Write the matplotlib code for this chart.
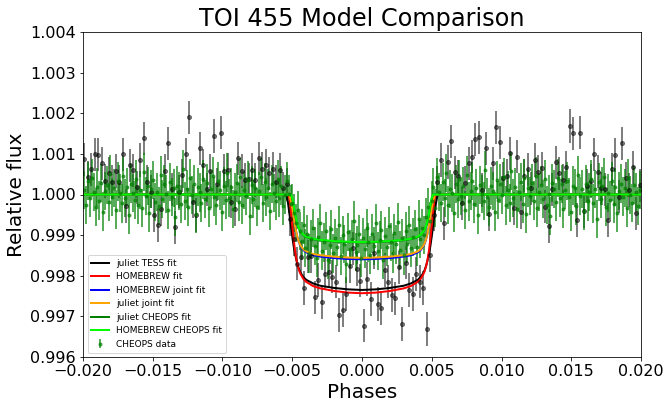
import numpy as np
import matplotlib
matplotlib.use('Agg')
import matplotlib.pyplot as plt

# grey data (no legend entry), flux offsets in ppm
black_ppm = [866, 420, 620, 989, 980, 767, 330, 520, 310, 578,
             315, 989, -283, 718, 595, 180, 849, 1383, 315, 69,
             -504, -750, -365, 578, 1259, 128, -808, 69, 472, 989,
             1899, -176, -504, 1136, 718, 128, 578, 1439, 250, 1521,
             578, 603, -176, -365, 890, 578, 357, 373, 603, 357,
             890, 640, 718, 521, 640, 315, 603, 152, 250,
             -600, -1100, -1700, -1546, -2300, -1530, -1513, -2530, -2103, -2652,
             -1950, -1899, -2021, -2144, -2964, -2841, -2447, -1759, -1324, -1841,
             -2120, -3227, -2079, -2571, -1431, -2694, -2800, -1857, -2144, -2472,
             -2554, -1792, -3186, -1677, -2349, -2448, -1956, -2144, -2300, -3309,
             -1500, -500,
             300, 849, -709, 799, 1308, 545, 446, -217, 291, 767,
             931, 1357, 1406, 111, 1136, -488, 767, 1653, 1284, 398,
             463, 1013, -340, 931, -439, 463, 619, 152, 849, 562,
             644, -300, -776, 127, 792, 521, 349, 668, 1685, 1505,
             -627, 1521, -406, 217, 340, 989, 562, 152, 127, -627,
             619, 972, -57, 1259, 400, 111, 668, -464, 225]
black_err_ppm = 410

# CHEOPS data, flux offsets in ppm
cheops_ppm = [120, -250, 340, -80, 410, 60, -310, 190, -150, 280,
              -420, 90, 230, -180, 510, -60, 150, -370, 320, 40,
              -220, 450, -90, 180, -510, 270, 30, -140, 390, -260,
              110, -330, 560, -40, 200, -450, 140, 350, -190, 70,
              -280, 480, -120, 250, 10, -390, 300, -70, 170, -560,
              220, 90, -230, 620, -160, 130, -300, 410, -20, 260,
              -480, 180, 50, -210, 370, -110, 290, -340, 140, 460,
              -50, -270, 330, 100, -430, 210, -140, 540, -80, 190,
              -360, 60, 280, -190, 420, -250, 120, -40, 350, -520,
              240, -120, 170, -300, 80, 440, -200, 310, -60, 150,
              -410, 260, 30, -150, 380, -90, 220, -280, 0, 340,
              20, -240,
              -200, -450, -700, -380, -900, -1150, -760, -1320, -980, -1450,
              -1100, -820, -1260, -1560, -1040, -700, -1380, -1180, -900, -1620,
              -1240, -860, -1450, -1080, -1300, -760, -1520, -1000, -1210, -1700,
              -930, -1350, -1100, -640, -1420, -1240, -980, -1560, -1060, -1330,
              -820, -1180, -1480, -960, -1260, -700, -1390, -1120, -880, -1600,
              -1020, -1300, -780, -1170, -1450, -940, -1230, -680, -1360, -1080,
              -1500, -900, -1210, -760, -1320, -1040, -860, -1280, -600, -1100,
              -820, -1000, -560, -300, -650, -150,
              180, -340, 420, 60, -210, 300, -90, 520, -260, 140,
              30, -450, 260, -120, 390, -30, 210, -380, 470, -170,
              90, 330, -240, 150, -500, 240, 10, -160, 600, -70,
              -310, 200, 80, -420, 360, -140, 270, -20, 430, -270,
              120, -200, 580, -90, 190, -360, 50, 310, -230, 400,
              -480, 160, -40, 280, -150, 450, -320, 70, 230, -110,
              370, -260, 20, -530, 290, 130, -190, 410, -80, 250,
              -350, 110, 340, -60, -440, 220, 170, -280, 490, -30,
              130, -400, 260, -170, 60, 380, -220, 140, -600, 300,
              -100, 210, 440, -300, 40, -130, 320, -240, 180, -460,
              90, 270, -50, 150, -330, 410, -10, -200, 230, 60,
              -280, 120]
cheops_err_ppm = 470

# model curves: distance from mid-transit and flux offset (ppm), symmetric
model_dphase = [0, 0.001, 0.002, 0.003, 0.0035, 0.004, 0.0042, 0.0044, 0.0045, 0.0046,
                0.0047, 0.0048, 0.0049, 0.005, 0.0051, 0.0052, 0.0053, 0.0054, 0.0055, 0.02]
juliet_tess = [-2350, -2335, -2300, -2245, -2190, -2100, -2030, -1930, -1850, -1750,
               -1620, -1460, -1270, -1030, -760, -480, -220, -40, 0, 0]
homebrew = [-2430, -2415, -2375, -2310, -2255, -2150, -2080, -1960, -1880, -1760,
            -1600, -1380, -1100, -760, -400, -100, 0, 0, 0, 0]
homebrew_joint = [-1595, -1587, -1565, -1528, -1496, -1425, -1370, -1275, -1200, -1095,
                  -950, -760, -540, -310, -110, 0, 0, 0, 0, 0]
juliet_joint = [-1560, -1552, -1530, -1495, -1465, -1400, -1350, -1260, -1190, -1090,
                -950, -770, -560, -340, -150, -30, 0, 0, 0, 0]
juliet_cheops = [-1180, -1173, -1155, -1125, -1100, -1045, -1000, -920, -860, -770,
                 -640, -480, -280, -90, 0, 0, 0, 0, 0, 0]
homebrew_cheops = [-1170, -1163, -1145, -1115, -1090, -1035, -990, -910, -850, -760,
                   -630, -470, -270, -80, 0, 0, 0, 0, 0, 0]

models = [(juliet_tess, 'black', 'juliet TESS fit'),
          (homebrew, 'red', 'HOMEBREW fit'),
          (homebrew_joint, 'blue', 'HOMEBREW joint fit'),
          (juliet_joint, 'orange', 'juliet joint fit'),
          (juliet_cheops, 'green', 'juliet CHEOPS fit'),
          (homebrew_cheops, 'lime', 'HOMEBREW CHEOPS fit')]


def mirror(dphase, ppm):
    d = np.asarray(dphase)
    f = 1 + np.asarray(ppm) * 1e-6
    return np.concatenate([-d[::-1], d[1:]]), np.concatenate([f[::-1], f[1:]])


black_phase = np.linspace(-0.0199, 0.0199, len(black_ppm))
cheops_phase = np.linspace(-0.0199, 0.0199, len(cheops_ppm))

fig = plt.figure(figsize=(671 / 72, 410 / 72), dpi=72)
ax = fig.add_axes([83 / 671, 53 / 410, 558 / 671, 325 / 410])

ax.errorbar(black_phase, 1 + np.array(black_ppm) * 1e-6, yerr=black_err_ppm * 1e-6,
            fmt='.', color='k', alpha=0.5, elinewidth=2, ms=8)
ax.errorbar(cheops_phase, 1 + np.array(cheops_ppm) * 1e-6, yerr=cheops_err_ppm * 1e-6,
            fmt='.', color='g', alpha=0.65, elinewidth=2, ms=6, label='CHEOPS data')

for vals, col, lab in models:
    x, y = mirror(model_dphase, vals)
    ax.plot(x, y, color=col, lw=2, label=lab)

ax.set_xlim(-0.02, 0.02)
ax.set_ylim(0.996, 1.004)
ax.set_xticks(np.arange(-0.02, 0.0201, 0.005))
ax.set_yticks(np.arange(0.996, 1.0041, 0.001))
ax.yaxis.set_major_formatter(plt.FuncFormatter(lambda v, p: '%.3f' % v))
ax.tick_params(labelsize=16)
ax.set_xlabel('Phases', fontsize=20)
ax.set_ylabel('Relative flux', fontsize=20)
ax.set_title('TOI 455 Model Comparison', fontsize=24)
ax.legend(loc='lower left', fontsize=9)

fig.savefig('out.png', dpi=72)
